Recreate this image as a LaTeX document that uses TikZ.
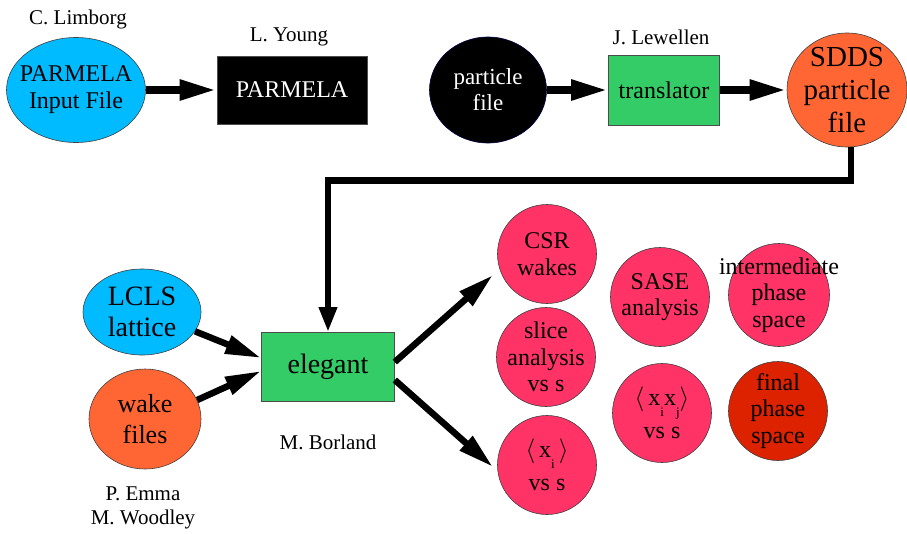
\documentclass[tikz,border=0pt]{standalone}
\usepackage{fontspec}
\setmainfont{Liberation Serif}
\usetikzlibrary{shapes.geometric,arrows.meta}
\definecolor{cblue}{RGB}{0,187,255}
\definecolor{corange}{RGB}{255,102,51}
\definecolor{cgreen}{RGB}{51,204,102}
\definecolor{cpink}{RGB}{255,51,102}
\definecolor{cdred}{RGB}{221,34,0}
\definecolor{cnavy}{RGB}{0,0,70}
\newcommand{\sbx}[1]{\raisebox{-0.42em}{\fontsize{13}{13}\selectfont #1}}
\begin{document}
\begin{tikzpicture}[x=1pt,y=-1pt,
  ell/.style={ellipse,draw=black!75,line width=0.6pt,inner sep=0pt},
  txt/.style={label={[align=center,font=#1]center:{\lbltext}}},
  boxnode/.style={rectangle,draw=black!70,line width=0.6pt,inner sep=0pt,align=center},
  lbl/.style={font=\fontsize{21}{24}\selectfont},
  fA/.style={font=\fontsize{24}{27}\selectfont},
  fB/.style={font=\fontsize{28}{32}\selectfont},
  circ/.style={ell,fill=cpink,minimum width=99pt,minimum height=99pt},
  toparrow/.style={line width=8pt,-{Triangle[length=37pt,width=19pt]}},
  loop/.style={line width=6.5pt,-{Triangle[length=25pt,width=17pt]}},
  inarrow/.style={line width=6.5pt,-{Triangle[length=36pt,width=18pt]}},
]
\useasboundingbox (0,0) rectangle (907,533);
\def\fc{\fontsize{24}{26.5}\selectfont}

% top row
\node[ell,fill=cblue,minimum width=139pt,minimum height=105pt,
  label={[align=center,font=\fontsize{24}{27}\selectfont]center:PARMELA\\Input File}] (parin) at (76,90) {};
\node[boxnode,fill=black,text=white,minimum width=150pt,minimum height=68pt,fA] (parmela) at (292,90) {PARMELA};
\node[ell,fill=black,draw=cnavy,minimum width=117pt,minimum height=106pt,
  label={[align=center,text=white,font=\fontsize{23}{26}\selectfont]center:particle\\file}] (particle) at (488,90) {};
\node[boxnode,fill=cgreen,minimum width=111pt,minimum height=70pt,fA] (trans) at (664,90) {translator};
\node[ell,fill=corange,minimum width=120pt,minimum height=114pt,
  label={[align=center,font=\fontsize{29}{33}\selectfont]center:SDDS\\particle\\file}] (sdds) at (847,90) {};

\node[lbl] (l1) at (78,19) {C. Limborg};
\node[lbl] (l2) at (289,37) {L. Young};
\node[lbl] (l3) at (661,37) {J. Lewellen};

\draw[toparrow] (parin.east) -- (parmela.west);
\draw[toparrow] (particle.east) -- (trans.west);
\draw[toparrow] (trans.east) -- (sdds.west);

% bottom-left
\node[ell,fill=cblue,minimum width=118pt,minimum height=86pt,
  label={[align=center,font=\fontsize{28}{31}\selectfont]center:LCLS\\lattice}] (lcls) at (142,312) {};
\node[ell,fill=corange,minimum width=112pt,minimum height=100pt,
  label={[align=center,font=\fontsize{26}{31}\selectfont]center:wake\\files}] (wake) at (145,419) {};
\node[boxnode,fill=cgreen,minimum width=133pt,minimum height=69pt,fB] (elegant) at (328,367) {elegant};

\node[lbl] (l4) at (328,442) {M. Borland};
\node[lbl,align=center,font=\fontsize{21}{23.5}\selectfont] (l5) at (143,508) {P. Emma\\M. Woodley};

\draw[loop] ([xshift=4pt]sdds.south) -- ++(0,33) -| (elegant.north);
\draw[inarrow] (lcls.-20) -- ([yshift=9pt]elegant.west);
\draw[inarrow] (wake.20) -- ([yshift=-4pt]elegant.west);

% output circles
\node[circ,label={[align=center,font=\fc]center:CSR\\wakes}] (csr) at (547,254) {};
\node[circ,label={[align=center,font=\fc]center:slice\\analysis\\vs s}] (slice) at (546,357) {};
\node[circ,label={[align=center,font=\fc]center:$\langle$\,x\sbx{i}\,$\rangle$\\[6pt]vs s}] (xi) at (547,465) {};
\node[circ,label={[align=center,font=\fc]center:SASE\\analysis}] (sase) at (660,297) {};
\node[circ,label={[align=center,font=\fc]center:$\langle$\,x\sbx{i}x\sbx{j}$\rangle$\\[6pt]vs s}] (xixj) at (662,413) {};
\node[circ,minimum width=101pt,minimum height=103pt,
  label={[align=center,font=\fc]center:intermediate\\phase\\space}] (inter) at (779,295) {};
\node[circ,fill=cdred,label={[align=center,font=\fc]center:final\\phase\\space}] (final) at (778,411) {};

\coordinate (t1) at (493,275);
\coordinate (t2) at (493,467);
\draw[inarrow] ([yshift=5pt]elegant.east) -- (t1);
\draw[inarrow] ([yshift=-13pt]elegant.east) -- (t2);
\end{tikzpicture}
\end{document}
